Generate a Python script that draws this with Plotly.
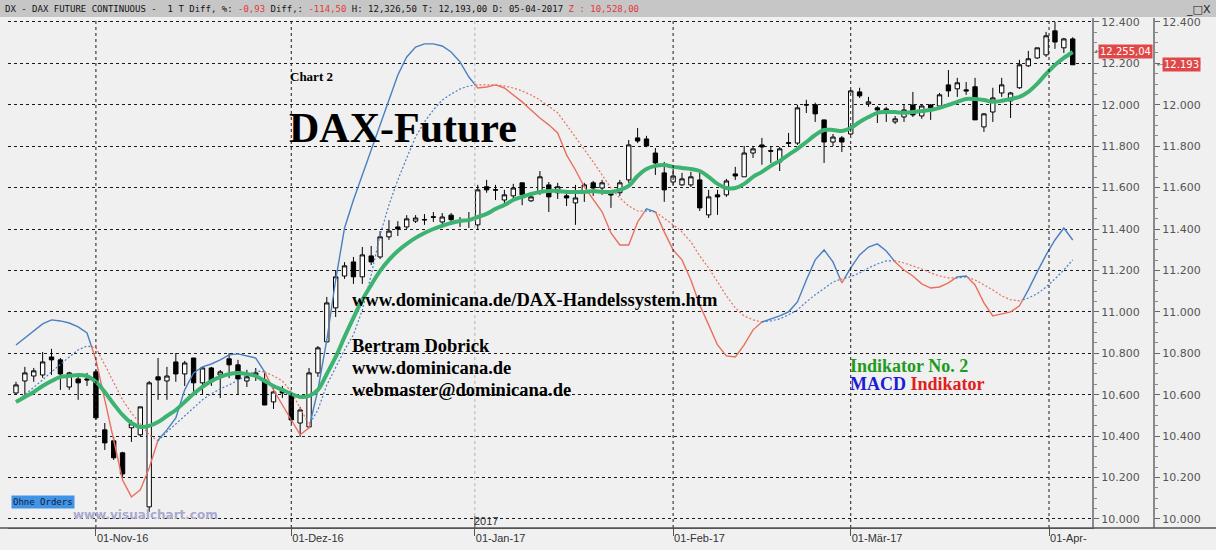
import plotly.graph_objects as go

# ── Data (one bar per trading day, 19-Oct-16 .. 05-Apr-17) ──────────────────
opens = [10608, 10666, 10690, 10695, 10782, 10768, 10637, 10676, 10676, 10710,
         10430, 10377, 10319, 10440, 10406, 10058, 10686, 10666, 10758, 10700,
         10777, 10657, 10729, 10695, 10773, 10744, 10666, 10695, 10671, 10565,
         10623, 10599, 10463, 10444, 10705, 10855, 11019, 11173, 11241, 11169,
         11270, 11265, 11362, 11410, 11410, 11438, 11446, 11459, 11434, 11467,
         11441, 11446, 11420, 11604, 11590, 11540, 11560, 11623, 11536, 11579,
         11613, 11575, 11560, 11526, 11575, 11623, 11598, 11570, 11575, 11637,
         11840, 11835, 11767, 11671, 11627, 11613, 11613, 11637, 11468, 11565,
         11565, 11666, 11652, 11767, 11806, 11779, 11724, 11817, 11815, 12001,
         12000, 11927, 11820, 11840, 11859, 12062, 12004, 11985, 11980, 11917,
         11941, 11999, 11946, 11999, 11994, 12096, 12077, 12072, 12087, 11893,
         11965, 12057, 12019, 12082, 12188, 12226, 12241, 12357, 12275, 12318]
highs = [10662, 10734, 10729, 10806, 10821, 10777, 10710, 10705, 10705, 10720,
         10463, 10396, 10324, 10478, 10541, 10666, 10777, 10734, 10801, 10763,
         10777, 10734, 10734, 10719, 10801, 10768, 10720, 10729, 10705, 10642,
         10642, 10613, 10541, 10729, 10835, 11072, 11202, 11240, 11265, 11313,
         11318, 11390, 11443, 11438, 11467, 11467, 11472, 11482, 11477, 11477,
         11458, 11482, 11613, 11637, 11613, 11589, 11618, 11623, 11575, 11680,
         11627, 11623, 11589, 11613, 11623, 11632, 11637, 11579, 11637, 11830,
         11888, 11850, 11791, 11724, 11690, 11671, 11676, 11671, 11589, 11589,
         11642, 11700, 11801, 11801, 11840, 11801, 11796, 11864, 12000, 12024,
         12010, 11927, 11859, 11849, 12072, 12082, 12038, 11994, 11990, 11946,
         12004, 12062, 11999, 12004, 12057, 12168, 12130, 12110, 12130, 11960,
         12082, 12130, 12062, 12217, 12260, 12275, 12352, 12400, 12323, 12326]
lows = [10599, 10599, 10662, 10681, 10695, 10623, 10623, 10575, 10642, 10478,
        10333, 10285, 10198, 10372, 10400, 10034, 10575, 10575, 10662, 10642,
        10613, 10599, 10642, 10584, 10680, 10599, 10637, 10666, 10550, 10531,
        10584, 10463, 10396, 10440, 10686, 10850, 10975, 11159, 11135, 11135,
        11226, 11255, 11347, 11366, 11400, 11429, 11420, 11434, 11420, 11438,
        11410, 11405, 11395, 11575, 11540, 11516, 11545, 11515, 11531, 11565,
        11482, 11545, 11511, 11420, 11531, 11560, 11565, 11502, 11560, 11623,
        11815, 11795, 11661, 11531, 11613, 11608, 11603, 11487, 11453, 11468,
        11555, 11637, 11652, 11743, 11710, 11719, 11680, 11796, 11806, 11960,
        11917, 11719, 11801, 11772, 11854, 12033, 11990, 11912, 11917, 11907,
        11917, 11941, 11932, 11927, 11980, 12038, 12038, 12048, 11927, 11869,
        11917, 12038, 11936, 12077, 12183, 12222, 12231, 12270, 12250, 12193]
closes = [10647, 10705, 10715, 10758, 10768, 10700, 10705, 10657, 10671, 10488,
          10367, 10295, 10217, 10459, 10541, 10657, 10671, 10690, 10700, 10753,
          10657, 10729, 10662, 10710, 10744, 10676, 10686, 10705, 10550, 10613,
          10608, 10478, 10526, 10705, 10826, 11043, 11169, 11222, 11169, 11275,
          11241, 11362, 11390, 11400, 11449, 11453, 11444, 11457, 11458, 11445,
          11439, 11444, 11589, 11589, 11588, 11565, 11598, 11565, 11555, 11652,
          11555, 11604, 11550, 11550, 11613, 11598, 11623, 11565, 11623, 11806,
          11825, 11801, 11719, 11589, 11656, 11642, 11652, 11502, 11555, 11555,
          11632, 11656, 11767, 11787, 11796, 11776, 11787, 11814, 11985, 11999,
          11956, 11820, 11844, 11820, 12067, 12043, 12014, 11975, 11965, 11932,
          11975, 11951, 11994, 11985, 12048, 12067, 12106, 12067, 11927, 11956,
          12033, 12096, 12057, 12193, 12222, 12275, 12333, 12303, 12318, 12193]

# Indikator No. 2 (smooth green line)
indikator2 = [10565, 10589, 10613, 10642, 10666, 10686, 10690, 10695, 10690, 10662,
              10613, 10555, 10502, 10463, 10444, 10449, 10468, 10497, 10526, 10565,
              10604, 10637, 10666, 10686, 10700, 10705, 10700, 10690, 10666, 10642,
              10623, 10604, 10589, 10594, 10623, 10700, 10782, 10879, 10971, 11058,
              11130, 11198, 11251, 11294, 11328, 11357, 11381, 11400, 11415, 11429,
              11439, 11443, 11458, 11473, 11497, 11516, 11540, 11555, 11569, 11579,
              11584, 11584, 11579, 11579, 11579, 11584, 11579, 11579, 11589, 11608,
              11656, 11690, 11705, 11709, 11700, 11695, 11690, 11680, 11652, 11618,
              11598, 11598, 11618, 11652, 11676, 11705, 11729, 11758, 11787, 11820,
              11854, 11878, 11878, 11873, 11888, 11917, 11941, 11961, 11965, 11965,
              11961, 11965, 11970, 11975, 11985, 11999, 12014, 12028, 12028, 12023,
              12014, 12019, 12028, 12038, 12062, 12101, 12149, 12192, 12226, 12255]

# MACD and its signal line, drawn on the price scale
macd = [10840, 10874, 10908, 10942, 10961, 10956, 10946, 10927, 10898, 10768,
        10575, 10381, 10188, 10106, 10140, 10246, 10381, 10430, 10488, 10623,
        10705, 10734, 10748, 10768, 10792, 10797, 10787, 10777, 10710, 10623,
        10550, 10478, 10406, 10440, 10623, 10864, 11154, 11405, 11540, 11661,
        11782, 11912, 12033, 12144, 12231, 12279, 12294, 12294, 12284, 12255,
        12207, 12134, 12081, 12086, 12096, 12081, 12047, 12014, 11975, 11936,
        11903, 11864, 11758, 11685, 11603, 11540, 11483, 11381, 11323, 11323,
        11434, 11497, 11483, 11386, 11299, 11251, 11154, 11033, 10937, 10840,
        10787, 10782, 10840, 10913, 10951, 10966, 10980, 11000, 11048, 11154,
        11251, 11299, 11241, 11140, 11212, 11275, 11313, 11328, 11294, 11241,
        11202, 11173, 11135, 11115, 11120, 11140, 11169, 11173, 11130, 11043,
        10980, 10990, 11000, 11029, 11106, 11193, 11275, 11347, 11405, 11347]
signal = [10565, 10599, 10633, 10671, 10710, 10748, 10782, 10816, 10835, 10826,
          10744, 10657, 10575, 10512, 10459, 10406, 10377, 10420, 10459, 10497,
          10536, 10575, 10604, 10628, 10647, 10671, 10695, 10715, 10710, 10690,
          10666, 10613, 10536, 10454, 10526, 10647, 10729, 10816, 10889, 11009,
          11178, 11371, 11516, 11637, 11743, 11845, 11917, 11975, 12023, 12052,
          12076, 12091, 12096, 12096, 12096, 12091, 12081, 12067, 12047, 12023,
          11994, 11961, 11903, 11845, 11782, 11724, 11661, 11598, 11550, 11511,
          11487, 11487, 11483, 11453, 11420, 11386, 11338, 11270, 11212, 11145,
          11077, 11019, 10980, 10961, 10951, 10956, 10966, 10985, 11009, 11048,
          11082, 11115, 11144, 11159, 11169, 11188, 11212, 11231, 11246, 11246,
          11236, 11222, 11207, 11188, 11173, 11164, 11164, 11169, 11154, 11130,
          11106, 11077, 11058, 11053, 11067, 11087, 11120, 11159, 11202, 11251]

# month starts on the bar axis (calendar days that fall on a weekend sit between bars)
month_idx = [9, 31, 51.67, 74, 94, 116.33]
month_lab = ["01-Nov-16", "01-Dez-16", "01-Jan-17", "01-Feb-17", "01-Mär-17", "01-Apr-"]
year_idx = 51.67

BLUE = "#4a7fc1"
RED = "#e8705e"
GREEN = "#3cb371"

W, H = 1216, 550
ML, MT, MB = 8, 18, 22


def px_x(x):
    return (x - ML) / (W - ML)


def px_y(y):
    return (H - MB - y) / (H - MB - MT)


def colour_runs(m, s):
    """Split MACD/signal into pieces coloured by MACD above/below signal."""
    pieces, cur = [], None
    for i in range(len(m) - 1):
        d0, d1 = m[i] - s[i], m[i + 1] - s[i + 1]
        p0, p1 = (i, m[i], s[i]), (i + 1, m[i + 1], s[i + 1])
        if d0 * d1 < 0:
            t = d0 / (d0 - d1)
            pc = (i + t, m[i] + t * (m[i + 1] - m[i]), s[i] + t * (s[i + 1] - s[i]))
            parts = [(d0 > 0, p0, pc), (d1 > 0, pc, p1)]
        else:
            parts = [((d0 + d1) >= 0, p0, p1)]
        for st, a, b in parts:
            if st != cur:
                pieces.append((st, [a]))
                cur = st
            pieces[-1][1].append(b)
    out = {True: ([], [], []), False: ([], [], [])}
    for st, pts in pieces:
        xs, ms, ss = out[st]
        for p in pts:
            xs.append(p[0]); ms.append(p[1]); ss.append(p[2])
        xs.append(None); ms.append(None); ss.append(None)
    return out


x = list(range(len(closes)))
fig = go.Figure()

# ── MACD (solid) and signal (dotted) ──────────────────────────────────────────
runs = colour_runs(macd, signal)
for st, col in [(True, BLUE), (False, RED)]:
    xs, ms, ss = runs[st]
    fig.add_trace(go.Scatter(x=xs, y=ss, mode="lines", line=dict(color=col, width=1.2, dash="2px,2px"),
                             showlegend=False, hoverinfo="skip"))
    fig.add_trace(go.Scatter(x=xs, y=ms, mode="lines", line=dict(color=col, width=1.4),
                             showlegend=False, hoverinfo="skip"))

# ── Candles ───────────────────────────────────────────────────────────────────
fig.add_trace(go.Candlestick(
    x=x, open=opens, high=highs, low=lows, close=closes,
    increasing=dict(line=dict(color="black", width=1), fillcolor="white"),
    decreasing=dict(line=dict(color="black", width=1), fillcolor="black"),
    whiskerwidth=0, showlegend=False,
))

# ── Indikator No. 2 ───────────────────────────────────────────────────────────
fig.add_trace(go.Scatter(x=x, y=indikator2, mode="lines",
                         line=dict(color=GREEN, width=4, shape="spline"),
                         showlegend=False, hoverinfo="skip"))

# dummy trace so the second price scale is drawn
fig.add_trace(go.Scatter(x=x, y=closes, yaxis="y2", mode="lines",
                         line=dict(width=0), opacity=0, showlegend=False, hoverinfo="skip"))

# ── Month grid ────────────────────────────────────────────────────────────────
for idx in month_idx:
    col = "#b4b4b4" if idx == year_idx else "#1a1a1a"
    fig.add_vline(x=idx, line=dict(color=col, width=1, dash="3px,3px"))

yr = [9956, 12419]
yaxis_common = dict(
    range=yr, tick0=10000, dtick=200, tickformat=",d",
    ticks="outside", ticklen=5, tickcolor="#666",
    minor=dict(dtick=50, ticks="outside", ticklen=3, tickcolor="#888"),
    tickfont=dict(family="DejaVu Sans", size=11, color="#555"),
    showline=True, linecolor="#8a8a8a", linewidth=2,
    zeroline=False, fixedrange=True,
)

fig.update_layout(
    width=W, height=H,
    margin=dict(l=ML, r=0, t=MT, b=MB),
    paper_bgcolor="#f0f0f0", plot_bgcolor="#f0f0f0",
    separators=",.",
    xaxis=dict(
        domain=[0, px_x(1092)], range=[-0.9, 121.17],
        tickvals=month_idx, ticktext=month_lab,
        ticks="outside", ticklen=7, tickcolor="#555",
        ticklabelposition="outside right",
        tickfont=dict(family="Liberation Sans", size=11, color="#333"),
        showgrid=False, zeroline=False, showline=True, linecolor="#555", linewidth=1,
        rangeslider=dict(visible=False),
    ),
    yaxis=dict(side="right", anchor="x", showgrid=True, gridcolor="#1a1a1a",
               griddash="3px,3px", gridwidth=1, **yaxis_common),
    yaxis2=dict(side="right", overlaying="y", anchor="free", position=px_x(1154),
                showgrid=False, **yaxis_common),
    showlegend=False,
)

# ── Frame / title bar ─────────────────────────────────────────────────────────
fig.add_shape(type="rect", xref="paper", yref="paper", x0=px_x(0), x1=1, y0=px_y(17), y1=px_y(0),
              fillcolor="#c6c6c6", line=dict(width=0), layer="above")
fig.add_shape(type="line", xref="paper", yref="paper", x0=px_x(0), x1=1, y0=0, y1=0,
              line=dict(color="#555", width=1.5))
fig.add_shape(type="line", xref="x", yref="paper", x0=year_idx, x1=year_idx,
              y0=0, y1=px_y(516), line=dict(color="#555", width=1))

red = "#e03a3a"
header = ("DX - DAX FUTURE CONTINUOUS -  1 T Diff, %: "
          f"<span style='color:{red}'>-0,93</span> Diff,: "
          f"<span style='color:{red}'>-114,50</span> H: 12,326,50 T: 12,193,00 D: 05-04-2017 "
          f"<span style='color:{red}'>Z : 10,528,00</span>")


def note(text, x, y, size, color="black", family="Liberation Serif", **kw):
    fig.add_annotation(text=text, xref="paper", yref="paper", x=px_x(x), y=px_y(y),
                       xanchor=kw.pop("xanchor", "left"), yanchor="middle", showarrow=False,
                       font=dict(family=family, size=size, color=color), **kw)


note(header, 3, 9, 9, color="#111", family="DejaVu Sans Mono")
note("_□X", 1213, 9, 11, color="#222", family="DejaVu Sans", xanchor="right")

note("<b>Chart 2</b>", 288, 76, 13)
note("<b>DAX-Future</b>", 287, 128, 42)
note("<b>www.dominicana.de/DAX-Handelssystem.htm</b>", 350, 300, 18.5)
note("<b>Bertram Dobrick</b>", 350, 346, 18.5)
note("<b>www.dominicana.de</b>", 350, 368, 18.5)
note("<b>webmaster@dominicana.de</b>", 350, 390, 18.5)
note("<b>Indikator No. 2</b>", 848, 366, 18, color="#1e9a1e")
note("<b><span style='color:#1c1cd8'>MACD</span> <span style='color:#e02020'>Indikator</span></b>",
     848, 384, 18)

note("Ohne Orders", 11, 502, 9, color="#102040", family="DejaVu Sans Mono", bgcolor="#4193e6")
note("<b>www.visualchart.com</b>", 71, 515, 12, color="#a9a9cc", family="DejaVu Sans")
note("2017", 472, 521, 11, color="#333", family="Liberation Sans")

# last-value tags on the price scales
fig.add_annotation(text="12.255,04", xref="paper", yref="y", x=px_x(1098), y=indikator2[-1],
                   xanchor="left", yanchor="middle", showarrow=False, bgcolor="#e04848",
                   font=dict(family="DejaVu Sans", size=10, color="white"))
fig.add_annotation(text="12.193", xref="paper", yref="y", x=px_x(1162), y=closes[-1],
                   xanchor="left", yanchor="middle", showarrow=False, bgcolor="#e04848",
                   font=dict(family="DejaVu Sans", size=10, color="white"))
for ax, val in [(1093, indikator2[-1]), (1155, closes[-1])]:
    fig.add_annotation(text="←", xref="paper", yref="y", x=px_x(ax), y=val,
                       xanchor="left", yanchor="middle", showarrow=False,
                       font=dict(family="DejaVu Sans", size=8, color="#666"))

# the page's default body margin would shift the figure; remove it
fig.write_html("out.html", config={"displayModeBar": False},
               post_script="document.body.style.margin='0';")
